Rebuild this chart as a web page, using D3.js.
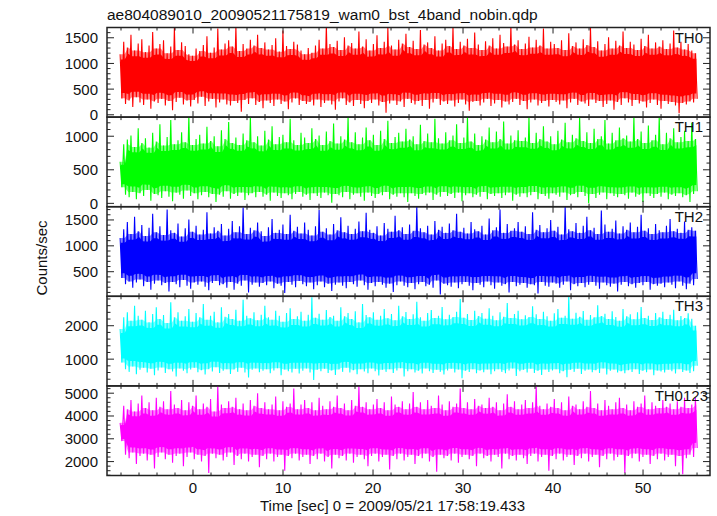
<!DOCTYPE html>
<html><head><meta charset="utf-8">
<script src="https://cdn.jsdelivr.net/npm/d3@7"></script>
<style>body{margin:0;background:#fff}svg{display:block;font-family:"Liberation Sans",Arial,Helvetica,sans-serif}</style>
</head><body><svg id="c" width="717" height="516"></svg>
<script>
const title = "ae804089010_20090521175819_wam0_bst_4band_nobin.qdp";
const xLabel = "Time [sec] 0 = 2009/05/21 17:58:19.433";
const yLabel = "Counts/sec";
const panelNames = ["TH0","TH1","TH2","TH3","TH0123"];
const panelColors = ["#ff0000","#00ff00","#0000ff","#00ffff","#ff00ff"];
const yDomains = [[-45,1700],[-50,1285],[25,1756],[200,2880],[1390,5320]];
const yMajor = [[0,500,1000,1500],[0,500,1000],[500,1000,1500],[1000,2000],[2000,3000,4000,5000]];
const yMinorStep = [100,100,100,200,200];
const xTicks = [0,10,20,30,40,50];
const xDomain = [-9.556, 57.44];
const tStart = -8.1, binWidth = 0.402;

// per-bin maximum / minimum count rates
const th0Hi = [1180,1420,1310,1560,1250,1390,1470,1220,1350,1610,1290,1380,1450,1200,1330,1700,1260,1410,1340,1180,
1150,1290,1240,1360,1530,1210,1310,1680,1270,1390,1450,1330,1720,1240,1380,1290,1460,1350,1560,1300,
1410,1270,1360,1490,1230,1640,1340,1280,1420,1370,1250,1180,1300,1210,1350,1460,1290,1740,1380,1320,
1440,1260,1510,1350,1400,1290,1620,1330,1470,1250,1380,1550,1300,1420,1700,1350,1270,1460,1390,1580,
1320,1440,1280,1650,1370,1410,1300,1530,1250,1390,1460,1340,1710,1280,1420,1350,1480,1300,1600,1370,
1260,1430,1350,1490,1290,1560,1400,1330,1740,1370,1450,1280,1390,1520,1310,1460,1350,1680,1290,1420,
1380,1300,1450,1260,1590,1340,1410,1290,1470,1360,1700,1320,1430,1250,1380,1510,1290,1440,1350,1620,
1300,1420,1370,1260,1480,1340,1560,1290,1410,1330,1450,1280,1390,1640,1310,1420,1270,1380,1250,1200];
const th0Lo = [320,210,280,150,340,240,190,300,120,260,230,310,180,270,90,250,330,200,280,160,
290,220,350,170,260,310,140,240,300,200,180,270,230,60,290,210,320,190,250,130,
280,230,170,300,210,260,110,240,320,190,270,210,250,180,300,150,230,280,200,100,
260,320,190,240,170,290,210,130,270,230,300,180,250,40,220,280,190,260,150,310,
230,200,270,170,290,120,240,310,190,260,210,280,160,230,300,200,80,250,270,180,
240,310,170,220,290,140,260,200,250,310,190,270,110,240,300,180,230,270,160,290,
250,200,280,130,240,310,190,260,220,170,300,230,270,150,210,280,100,250,190,320,
240,170,290,220,260,140,230,300,190,120,270,210,250,180,30,230,200,260,240,310];

const th1Hi = [620,880,950,1010,840,1120,900,970,830,1050,920,1180,860,990,1240,880,940,1060,910,1300,
870,960,1020,890,1140,930,1000,850,1090,960,1210,900,980,870,1040,940,1290,910,1000,860,
1080,950,1150,880,990,1020,910,1260,940,870,1050,980,900,1120,960,1010,870,1070,930,1190,
890,1000,950,1290,910,1060,880,980,1130,940,1020,870,1080,960,1230,900,990,1050,920,1110,
950,1000,880,1170,930,1040,910,1260,970,890,1060,940,1010,1180,900,980,1290,920,1040,870,
1000,950,1130,910,1070,960,1220,890,1010,940,1090,930,980,1290,900,1050,960,1150,920,1000,
880,1080,950,1200,910,1020,970,1290,930,1060,900,1110,960,1000,1240,890,1050,940,1130,970,
1010,920,1290,960,1070,900,1160,940,1020,1290,880,1050,970,1120,910,990,1080,930,1200,960];
const th1Lo = [240,130,90,170,60,150,110,200,40,140,120,80,180,100,30,160,130,70,190,110,
150,60,120,170,90,140,20,130,100,180,70,140,110,160,50,120,150,90,170,100,
130,40,160,110,80,150,120,60,140,170,100,130,50,150,110,80,160,120,10,140,
120,90,170,60,130,150,100,40,160,110,80,140,120,170,60,130,100,150,90,20,
150,110,70,140,120,160,50,130,100,170,110,140,80,160,30,120,150,90,130,100,
170,60,140,110,150,80,120,160,40,130,100,150,90,120,170,60,140,110,70,150,
130,100,160,50,120,140,90,170,110,0,140,80,130,160,60,150,110,90,140,120,
70,160,100,130,20,150,110,80,140,100,160,60,130,110,150,90,120,20,140,180];

const th2Hi = [1150,1320,1460,1230,1560,1280,1400,1190,1350,1620,1260,1380,1210,1700,1300,1250,1430,1180,1340,1510,
1270,1390,1220,1310,1650,1240,1360,1290,1420,1200,1330,1480,1260,1380,1740,1230,1350,1300,1450,1280,
1190,1360,1520,1250,1310,1410,1230,1600,1290,1370,1240,1450,1310,1200,1380,1690,1270,1340,1220,1420,
1300,1550,1260,1390,1230,1330,1470,1280,1640,1310,1250,1380,1200,1440,1330,1270,1580,1300,1360,1230,
1410,1290,1760,1340,1260,1390,1220,1480,1310,1370,1250,1430,1300,1620,1270,1350,1240,1460,1320,1280,
1390,1220,1530,1300,1360,1700,1250,1420,1290,1340,1460,1270,1380,1230,1650,1310,1400,1260,1340,1500,
1290,1370,1220,1760,1320,1280,1440,1250,1390,1560,1300,1350,1230,1680,1410,1270,1330,1490,1240,1380,
1310,1450,1260,1370,1600,1290,1340,1230,1420,1300,1260,1390,1520,1280,1330,1250,1470,1310,1360,1290];
const th2Lo = [380,260,310,190,290,350,220,300,150,270,330,240,280,120,300,260,200,340,230,170,
290,250,310,210,140,280,320,240,260,190,300,150,270,230,330,100,250,290,210,280,
240,310,180,270,230,90,300,250,200,320,260,220,290,160,240,310,200,270,130,250,
290,230,180,300,260,210,330,240,150,280,220,300,250,190,270,110,240,310,230,200,
280,160,260,300,220,250,190,330,60,270,240,210,290,180,260,300,230,140,280,250,
200,310,240,170,290,230,260,100,300,220,250,280,190,260,240,80,300,230,210,290,
270,190,250,310,140,260,220,280,200,250,300,230,170,290,240,210,270,120,250,300,
220,260,190,280,240,300,150,260,230,270,200,290,250,180,310,230,160,270,240,360];

const th3Hi = [1900,2250,2400,2150,2600,2300,2180,2450,2100,2350,2550,2200,2320,2080,2700,2250,2400,2150,2280,2500,
2120,2380,2250,2650,2180,2300,2420,2100,2550,2270,2350,2200,2480,2150,2780,2300,2220,2400,2160,2330,
2600,2250,2180,2450,2300,2120,2380,2520,2200,2280,2420,2150,2330,2850,2240,2360,2180,2470,2260,2300,
2150,2550,2280,2380,2200,2430,2100,2650,2320,2250,2400,2180,2300,2500,2220,2350,2160,2600,2280,2410,
2200,2340,2720,2250,2150,2380,2470,2230,2300,2560,2190,2330,2260,2420,2800,2240,2350,2170,2450,2290,
2380,2210,2520,2300,2160,2400,2270,2680,2230,2350,2450,2190,2310,2260,2580,2340,2200,2420,2280,2150,
2370,2500,2240,2300,2880,2210,2390,2270,2440,2180,2320,2250,2610,2290,2360,2200,2430,2260,2150,2500,
2280,2340,2190,2400,2560,2230,2300,2170,2380,2250,2420,2200,2330,2480,2160,2290,2230,2370,2210,2000];
const th3Lo = [900,700,620,780,550,680,740,600,710,520,660,750,590,700,630,480,720,650,580,690,
740,610,670,540,700,630,760,590,650,700,560,690,620,740,600,450,680,720,610,650,
700,580,660,730,520,690,640,600,710,570,650,720,600,380,680,640,710,590,660,530,
690,620,740,600,670,550,700,630,580,720,640,510,680,620,700,590,660,730,480,640,
700,600,650,570,720,640,590,680,620,540,660,710,600,690,430,650,620,700,580,660,
610,690,550,640,700,620,580,660,720,500,640,680,600,710,590,650,530,690,620,660,
700,580,640,460,680,620,710,560,650,690,610,670,590,720,540,650,690,600,640,580,
670,620,700,560,650,610,690,520,660,630,600,680,640,570,700,620,660,590,640,800];

const th0123Hi = [3700,4450,4300,4700,4200,4550,4900,4350,4600,4250,4800,4400,4650,4300,5100,4500,4350,4700,4250,4600,
4450,4900,4300,4550,4400,4750,4200,5300,4500,4350,4650,4400,4800,4300,4550,4250,4700,4450,5000,4350,
4600,4300,4500,4850,4250,4650,4400,4550,5200,4300,4500,4700,4350,4600,4250,4800,4450,4300,4650,4400,
4900,4350,4550,4250,4700,4450,5300,4400,4600,4300,4500,4750,4350,4600,4250,4850,4500,4400,4650,4300,
4550,5050,4400,4600,4300,4700,4450,4350,4900,4500,4250,4650,4400,4550,5200,4350,4600,4300,4750,4450,
4500,4350,4800,4400,4600,4250,4550,4950,4400,4650,4300,4500,4700,4350,4600,5300,4450,4300,4550,4400,
4750,4350,4600,4250,4850,4450,4500,4300,4650,4400,5100,4350,4550,4250,4700,4450,4300,4600,4800,4350,
4500,4250,4650,4400,4550,4900,4300,4600,4450,4350,4700,4400,4550,4300,4650,4400,4800,4350,4500,4800];
const th0123Lo = [2900,2300,2150,2400,1900,2250,2350,2050,2300,1700,2200,2400,2100,2300,1950,2250,2350,1800,2200,2400,
2100,2300,2000,2250,1500,2350,2150,2300,2050,2200,2400,1850,2250,2100,2350,2000,2200,2300,1750,2250,
2100,2350,2000,2200,2300,1600,2250,2150,2350,2050,2200,2300,1900,2250,2100,2350,2000,2200,1700,2300,
2150,2250,2050,2350,1950,2200,2300,2100,1800,2250,2350,2000,2200,2300,1650,2250,2100,2350,2050,2200,
2300,1900,2250,2150,2350,2000,2200,1550,2300,2150,2250,2050,2350,1950,2200,2300,2100,2250,1800,2350,
2150,2250,2000,2300,2200,1700,2350,2100,2250,2050,2300,2150,1900,2250,2350,2000,2200,2300,1600,2250,
2100,2350,2050,2200,2300,1850,2250,2150,2350,2000,2200,2300,1750,2250,2100,2350,2050,2200,2300,1500,
2250,2150,2350,2000,2200,2300,1900,2250,2100,2350,2050,2200,2300,1800,2250,1450,2150,2300,2200,2600];

const seriesHi = [th0Hi, th1Hi, th2Hi, th3Hi, th0123Hi];
const seriesLo = [th0Lo, th1Lo, th2Lo, th3Lo, th0123Lo];

const svg = d3.select("#c");
const L = 107, R = 710, T = 27.5, B = 475.5;
const ph = (B - T) / panelNames.length;
const x = d3.scaleLinear().domain(xDomain).range([L, R]);
const frameColor = "#222";

svg.append("text").attr("x", 107).attr("y", 20).attr("font-size", 15.5).attr("fill", "#111").text(title);

const xMinor = d3.range(-8, 57, 2);

panelNames.forEach((name, p) => {
  const top = T + p * ph, bot = top + ph;
  const y = d3.scaleLinear().domain(yDomains[p]).range([bot, top]);
  const g = svg.append("g");
  g.append("clipPath").attr("id", "clip" + p).append("rect")
    .attr("x", L).attr("y", top).attr("width", R - L).attr("height", ph);
  const hi = seriesHi[p], lo = seriesLo[p], n = hi.length;
  const pts = [];
  hi.forEach((h, i) => {
    const t = tStart + i * binWidth;
    pts.push([t, h]);
    pts.push([t + binWidth / 2, lo[i]]);
  });
  // dense core: overlap of neighbouring bins (min of neighbouring maxima, max of neighbouring minima)
  const core = hi.map((h, i) => {
    const a = Math.max(0, i - 1), b = Math.min(n - 1, i + 1);
    return [tStart + i * binWidth + binWidth / 4, d3.max(lo.slice(a, b + 1)), d3.min(hi.slice(a, b + 1))];
  });
  const area = d3.area().x(d => x(d[0])).y0(d => y(d[1])).y1(d => y(d[2]));
  const cg = g.append("g").attr("clip-path", `url(#clip${p})`);
  cg.append("path").attr("d", area(core)).attr("fill", panelColors[p]).attr("fill-opacity", 0.5);
  const line = d3.line().x(d => x(d[0])).y(d => y(d[1]));
  cg.append("path").attr("d", line(pts))
    .attr("fill", "none").attr("stroke", panelColors[p]).attr("stroke-width", 1.1);
  const inner = core.map(d => [d[0], d[1] + (d[2] - d[1]) * 0.12, d[2] - (d[2] - d[1]) * 0.12]);
  cg.append("path").attr("d", area(inner)).attr("fill", panelColors[p]);

  // x ticks (top and bottom, inward)
  const tk = g.append("g").attr("stroke", frameColor).attr("stroke-width", 1);
  xMinor.forEach(v => {
    const len = (v % 10 === 0) ? 6 : 3;
    tk.append("line").attr("x1", x(v)).attr("x2", x(v)).attr("y1", bot).attr("y2", bot - len);
    tk.append("line").attr("x1", x(v)).attr("x2", x(v)).attr("y1", top).attr("y2", top + len);
  });
  // y ticks
  const [d0, d1] = yDomains[p];
  const step = yMinorStep[p];
  d3.range(Math.ceil(d0 / step) * step, d1 + 1, step).forEach(v => {
    const major = (v % 500 === 0 && p < 3) || (v % 1000 === 0 && p >= 3);
    const len = major ? 7 : 3.5;
    tk.append("line").attr("x1", L).attr("x2", L + len).attr("y1", y(v)).attr("y2", y(v));
    tk.append("line").attr("x1", R).attr("x2", R - len).attr("y1", y(v)).attr("y2", y(v));
  });
  // y labels
  yMajor[p].forEach(v => {
    g.append("text").attr("x", 98).attr("y", y(v) + 5.5).attr("text-anchor", "end")
      .attr("font-size", 15).attr("fill", "#111").text(v);
  });
  // frame
  g.append("rect").attr("x", L).attr("y", top).attr("width", R - L).attr("height", ph)
    .attr("fill", "none").attr("stroke", frameColor).attr("stroke-width", 1.5);
  // panel name
  g.append("text").attr("x", name.length > 3 ? 708 : 703).attr("y", top + 15)
    .attr("text-anchor", "end").attr("font-size", 15).attr("fill", "#111").text(name);
});

// x tick labels
xTicks.forEach(v => {
  svg.append("text").attr("x", x(v)).attr("y", 493).attr("text-anchor", "middle")
    .attr("font-size", 15).attr("fill", "#111").text(v);
});
svg.append("text").attr("x", 260).attr("y", 511).attr("font-size", 15).attr("fill", "#111").text(xLabel);
svg.append("text").attr("transform", "translate(47,258) rotate(-90)").attr("text-anchor", "middle")
  .attr("font-size", 15).attr("fill", "#111").text(yLabel);
</script></body></html>
